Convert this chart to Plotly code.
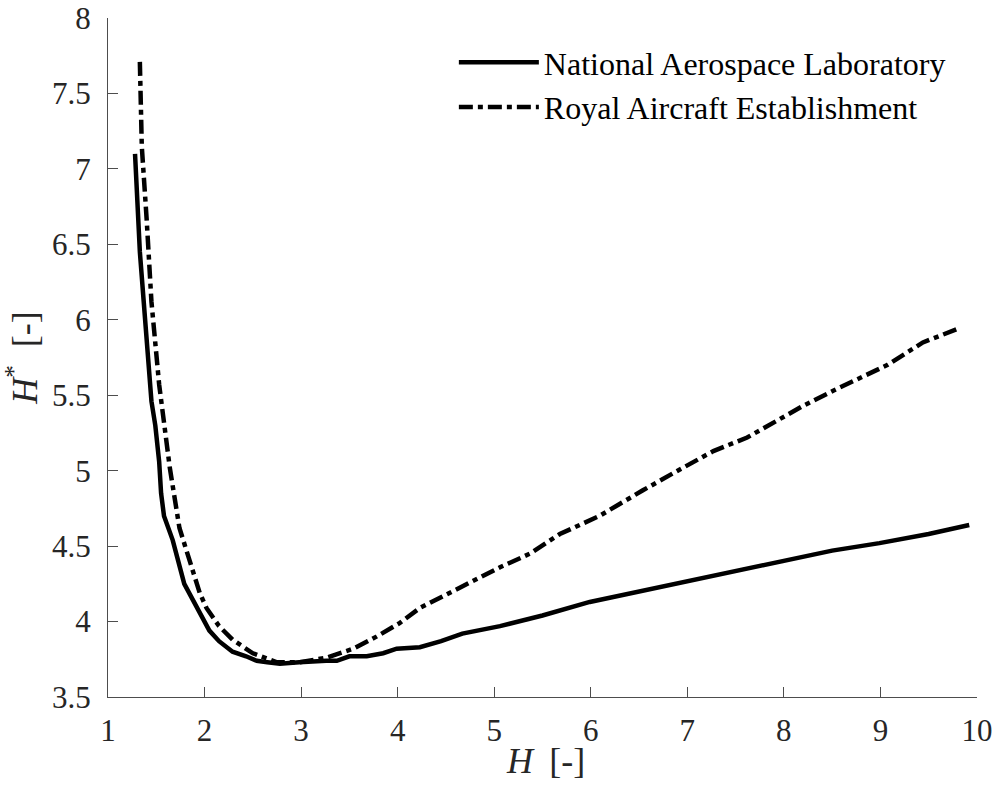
import plotly.graph_objects as go

# National Aerospace Laboratory (solid)
nal_H = [1.28, 1.30, 1.33, 1.37, 1.41, 1.45, 1.49, 1.53, 1.55, 1.58, 1.67, 1.73, 1.79, 1.84,
         1.95, 2.05, 2.15, 2.29, 2.43, 2.54, 2.65, 2.78, 2.98, 3.15, 3.26, 3.37, 3.50, 3.68,
         3.85, 3.99, 4.23, 4.45, 4.67, 5.06, 5.50, 5.99, 6.50, 7.00, 7.50, 7.99, 8.50, 8.99,
         9.50, 9.92]
nal_Hs = [7.10, 6.80, 6.45, 6.12, 5.75, 5.46, 5.30, 5.06, 4.85, 4.70, 4.54, 4.40, 4.25, 4.19,
          4.06, 3.94, 3.87, 3.80, 3.77, 3.74, 3.73, 3.72, 3.73, 3.74, 3.74, 3.74, 3.77, 3.77,
          3.79, 3.82, 3.83, 3.87, 3.92, 3.97, 4.04, 4.13, 4.20, 4.27, 4.34, 4.40, 4.47, 4.52,
          4.58, 4.64]

# Royal Aircraft Establishment (dash-dot)
rae_H = [1.33, 1.35, 1.40, 1.45, 1.53, 1.64, 1.74, 1.81, 1.95, 2.02, 2.15, 2.29, 2.50, 2.75,
         2.98, 3.26, 3.54, 3.78, 4.02, 4.23, 4.54, 4.80, 5.06, 5.37, 5.68, 6.09, 6.35, 6.54,
         6.90, 7.27, 7.62, 7.93, 8.20, 8.51, 8.80, 9.07, 9.44, 9.80]
rae_Hs = [7.71, 7.15, 6.67, 6.12, 5.57, 5.02, 4.62, 4.47, 4.19, 4.09, 3.97, 3.88, 3.79, 3.73,
          3.73, 3.76, 3.82, 3.90, 3.99, 4.09, 4.19, 4.28, 4.36, 4.45, 4.58, 4.70, 4.80, 4.87,
          5.00, 5.13, 5.22, 5.33, 5.43, 5.53, 5.62, 5.70, 5.85, 5.94]

x_ticks = [1, 2, 3, 4, 5, 6, 7, 8, 9, 10]
y_ticks = [3.5, 4, 4.5, 5, 5.5, 6, 6.5, 7, 7.5, 8]
y_tick_labels = ["3.5", "4", "4.5", "5", "5.5", "6", "6.5", "7", "7.5", "8"]

FONT = "Liberation Serif, Times New Roman, serif"
AXC = "#4d4d4d"

fig = go.Figure()
fig.add_trace(go.Scatter(x=nal_H, y=nal_Hs, mode="lines", name="National Aerospace Laboratory",
                         line=dict(color="black", width=4.5)))
fig.add_trace(go.Scatter(x=rae_H, y=rae_Hs, mode="lines", name="Royal Aircraft Establishment",
                         line=dict(color="black", width=4.5, dash="14px,5px,5px,5px")))

axis_common = dict(showline=True, linecolor=AXC, linewidth=1.2, ticks="inside", ticklen=10,
                   tickcolor=AXC, tickwidth=1.2, showgrid=False, zeroline=False, mirror=False,
                   automargin=False, ticklabeloverflow="allow",
                   tickfont=dict(family=FONT, size=31, color="#262626"))

fig.update_xaxes(range=[1, 10.0005], tickvals=x_ticks, ticktext=[str(v) for v in x_ticks],
                 ticklabelstandoff=6,
                 **axis_common)
fig.update_yaxes(range=[3.5, 8.0005], tickvals=y_ticks, ticktext=y_tick_labels,
                 ticklabelstandoff=10,
                 title=dict(text="<i>H</i><sup>*</sup>\u00a0\u00a0[-]", font=dict(family=FONT, size=36, color="#262626"),
                            standoff=4),
                 **axis_common)

fig.add_annotation(text="<i>H</i>\u00a0\u2009[-]", xref="paper", yref="paper",
                   x=0.503, y=-0.094, xanchor="center", yanchor="middle", showarrow=False,
                   font=dict(family=FONT, size=36, color="#262626"))

fig.update_layout(
    width=996, height=793,
    margin=dict(l=108, r=19, t=18, b=96),
    plot_bgcolor="white", paper_bgcolor="white",
    font=dict(family=FONT, color="#262626"),
    legend=dict(x=0.398, y=0.975, xanchor="left", yanchor="top",
                font=dict(family=FONT, size=32, color="black"),
                itemwidth=80,
                bgcolor="rgba(0,0,0,0)", tracegroupgap=0),
    showlegend=True,
)

fig.write_html("out.html")
